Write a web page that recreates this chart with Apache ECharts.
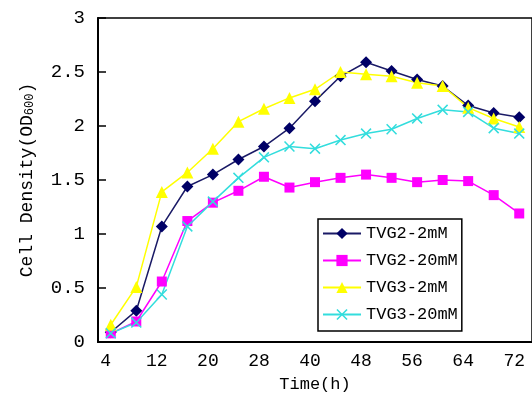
<!DOCTYPE html>
<html>
<head>
<meta charset="utf-8">
<script src="https://cdn.jsdelivr.net/npm/echarts@6/dist/echarts.min.js"></script>
<style>html,body{margin:0;padding:0;background:#fff}#c{width:532px;height:406px}</style>
</head>
<body>
<div id="c"></div>
<script>
var hours = ['4','8','12','16','20','24','28','34','40','44','48','52','56','60','64','68','72'];
var tvg2_2mM  = [0.09,0.29,1.07,1.44,1.55,1.69,1.81,1.98,2.23,2.46,2.59,2.51,2.43,2.37,2.19,2.12,2.08];
var tvg2_20mM = [0.08,0.19,0.56,1.12,1.29,1.40,1.53,1.43,1.48,1.52,1.55,1.52,1.48,1.50,1.49,1.36,1.19];
var tvg3_2mM  = [0.16,0.51,1.39,1.57,1.79,2.04,2.16,2.26,2.34,2.50,2.48,2.46,2.40,2.37,2.17,2.07,1.99];
var tvg3_20mM = [0.08,0.18,0.44,1.07,1.30,1.52,1.71,1.81,1.79,1.87,1.93,1.97,2.07,2.15,2.13,1.98,1.93];
var yTicks = [0, 0.5, 1, 1.5, 2, 2.5, 3];

var FONT = 'Liberation Mono';
var xMark = 'path://M0,1L1,0L5,4L9,0L10,1L6,5L10,9L9,10L5,6L1,10L0,9L4,5Z';

function mk(name, data, color, symbol, size, lineColor) {
  return {
    name: name, type: 'line', data: data,
    symbol: symbol, symbolSize: size,
    lineStyle: {color: lineColor || color, width: 1.5},
    itemStyle: {color: color},
    animation: false
  };
}

var chart = echarts.init(document.getElementById('c'));
chart.setOption({
  backgroundColor: '#fff',
  animation: false,
  grid: {left: 98, top: 18, width: 445, height: 324, show: true, borderColor: '#000', borderWidth: 1.5, backgroundColor: 'transparent'},
  legend: {
    left: 318, top: 219, orient: 'vertical',
    backgroundColor: '#fff', borderColor: '#000', borderWidth: 1.5,
    padding: [6, 4, 8, 4], itemGap: 10, itemWidth: 38, itemHeight: 14,
    textStyle: {fontFamily: FONT, fontSize: 17, color: '#000'},
    data: ['TVG2-2mM', 'TVG2-20mM', 'TVG3-2mM', 'TVG3-20mM']
  },
  xAxis: {
    type: 'category', data: hours, boundaryGap: true,
    axisLine: {lineStyle: {color: '#000', width: 2}},
    axisTick: {show: false},
    axisLabel: {interval: 1, fontFamily: FONT, fontSize: 18, color: '#000', margin: 10, padding: [0, 10, 0, 0]},
    name: 'Time(h)', nameLocation: 'middle', nameGap: 34,
    nameTextStyle: {fontFamily: FONT, fontSize: 17, color: '#000'}
  },
  yAxis: {
    type: 'value', min: yTicks[0], max: yTicks[yTicks.length - 1], interval: 0.5,
    axisLine: {show: true, lineStyle: {color: '#000', width: 2}},
    axisTick: {show: true, inside: true, length: 8, lineStyle: {color: '#000', width: 1.5}},
    splitLine: {show: false},
    axisLabel: {fontFamily: FONT, fontSize: 19, color: '#000', margin: 13},
    name: '{a|Cell Density(OD}{b|600}{a|)}', nameLocation: 'middle', nameGap: 62,
    nameTextStyle: {
      color: '#000',
      rich: {
        a: {fontFamily: FONT, fontSize: 18, color: '#000'},
        b: {fontFamily: FONT, fontSize: 12, color: '#000', verticalAlign: 'bottom', padding: [6, 0, 0, 0]}
      }
    }
  },
  series: [
    mk('TVG2-2mM', tvg2_2mM, '#000066', 'diamond', 12, '#1a1a66'),
    mk('TVG2-20mM', tvg2_20mM, '#ff00ff', 'rect', 10),
    mk('TVG3-2mM', tvg3_2mM, '#ffff00', 'triangle', 12),
    mk('TVG3-20mM', tvg3_20mM, '#33dddd', xMark, 11)
  ]
});
</script>
</body>
</html>
